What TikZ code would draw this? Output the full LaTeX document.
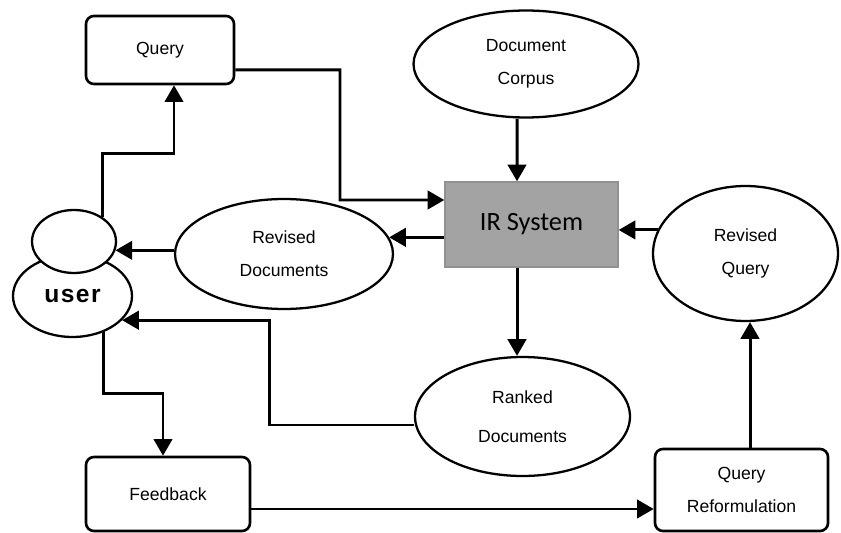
\documentclass[tikz,border=0pt]{standalone}
\usepackage{fontspec}
\setmainfont{Liberation Sans}
\newfontfamily\irfont{Carlito}
\newfontfamily\userfont[LetterSpace=6]{Liberation Sans}
\usetikzlibrary{arrows.meta,shapes.geometric}
\definecolor{irgray}{RGB}{163,163,163}
\definecolor{iredge}{RGB}{145,145,145}

\begin{document}
\begin{tikzpicture}[x=0.02cm,y=-0.02cm,
    box/.style={draw,line width=1.5pt,rounded corners=4.5pt,inner sep=0pt,align=center,font=\fontsize{10}{19}\selectfont},
    blob/.style={draw,ellipse,line width=1.3pt,inner sep=0pt,align=center,font=\fontsize{10}{19}\selectfont},
    arr/.style={line width=1.7pt,-{Triangle[length=9.5pt,width=10.5pt]}}]
    \useasboundingbox (0,0) rectangle (841,533);

    % rounded boxes
    \node[box,minimum width=2.96cm,minimum height=1.36cm] (query) at (160,50) {Query};
    \node[box,minimum width=3.28cm,minimum height=1.48cm] (feedback) at (168,494) {Feedback};
    \node[box,minimum width=3.46cm,minimum height=1.64cm] (qref) at (741.5,490) {Query\\Reformulation};

    % the system
    \node[draw=iredge,fill=irgray,line width=0.8pt,minimum width=3.46cm,minimum height=1.7cm,
          font=\irfont\fontsize{15}{18}\selectfont] (ir) at (531.5,224.5) {IR System};

    % ellipses
    \node[blob,minimum width=4.5cm,minimum height=2.14cm] (corpus) at (526,64) {Document\\Corpus};
    \node[blob,minimum width=4.36cm,minimum height=2.2cm] (revdocs) at (284,254) {Revised\\Documents};
    \node[blob,minimum width=4.3cm,minimum height=2.38cm,font=\fontsize{10}{22}\selectfont] (ranked) at (522.5,416.5) {Ranked\\Documents};
    \node[blob,minimum width=3.7cm,minimum height=2.7cm] (revquery) at (745.5,253.5) {Revised\\Query};

    % user: body and head
    \node[blob,minimum width=2.38cm,minimum height=1.64cm,font=\userfont\fontsize{14}{18}\selectfont\bfseries] (ubody) at (72.5,296) {user};
    \node[blob,fill=white,minimum width=1.68cm,minimum height=1.26cm] (ushead) at (74,241.5) {};

    % connectors
    \draw[arr] (ushead.40) |- ([xshift=0.28cm,yshift=-1.36cm]query.south) -- ([xshift=0.28cm]query.south);
    \draw[arr] ([yshift=-0.4cm]query.east) -| (340,200) -- ([yshift=0.49cm]ir.west);
    \draw[arr] ([xshift=-0.18cm]corpus.south) -- ([xshift=-0.29cm]ir.north);
    \draw[arr] (revdocs.9 -| ir.west) -- (revdocs.9);
    \draw[arr] (ushead.-12 -| revdocs.west) -- (ushead.-12);
    \draw[arr] (revquery.165) -- (revquery.165 -| ir.east);
    \draw[arr] ([xshift=-0.29cm]ir.south) -- ([xshift=-0.29cm]ir.south |- ranked.north);
    \draw[arr] ([yshift=-0.17cm]ranked.west) -| ([xshift=2.95cm]ubody.-26) -- (ubody.-26);
    \draw[arr] (ubody.-50) |- ([xshift=-0.1cm,yshift=1.24cm]feedback.north) -- ([xshift=-0.1cm]feedback.north);
    \draw[arr] ([yshift=-0.3cm]feedback.east) -- ([yshift=-0.3cm]feedback.east -| qref.west);
    \draw[arr] ([xshift=0.17cm]qref.north) -- ([xshift=0.17cm]qref.north |- revquery.south);
\end{tikzpicture}
\end{document}
